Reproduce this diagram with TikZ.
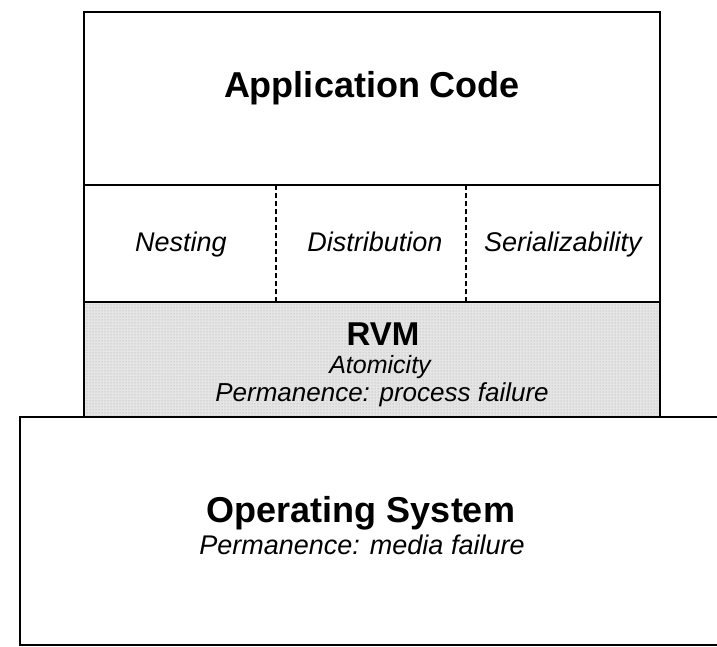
\documentclass[tikz,border=0pt]{standalone}
\usepackage{fontspec}
\setmainfont{Liberation Sans}
\usetikzlibrary{patterns}
\tikzset{
  layer/.style={draw=black, line width=1.6pt},
  divider/.style={draw=black, line width=1.3pt, dash pattern=on 5pt off 3pt},
  titletext/.style={font=\fontsize{36}{40}\selectfont\bfseries, anchor=base},
  subtext/.style={font=\fontsize{27}{30}\selectfont\itshape, anchor=base},
}
\begin{document}
\begin{tikzpicture}[x=1pt,y=-1pt]
\useasboundingbox (0,0) rectangle (717,647);
\clip (0,0) rectangle (717,647);
% RVM shaded layer
\fill[gray!20] (84,302) rectangle (660,417);
\fill[pattern=dots, pattern color=gray!70] (84,302) rectangle (660,417);
\draw[layer] (84,302) rectangle (660,417);
% Application code
\draw[layer] (84,12) rectangle (660,185);
% middle row
\draw[layer] (84,185) rectangle (660,302);
\coordinate (d1t) at (276,185); \coordinate (d1b) at (276,302);
\coordinate (d2t) at (466,185); \coordinate (d2b) at (466,302);
\draw[divider] (d1t) -- (d1b);
\draw[divider] (d2t) -- (d2b);
% Operating system
\draw[layer, fill=white] (20,417) rectangle (740,645);
% texts
\node[titletext] (app) at (372,98) {Application Code};
\node[subtext] (nest) at (181,251) {Nesting};
\node[subtext] (dist) at (375,251) {Distribution};
\node[subtext] (ser) at (563,251) {Serializability};
\node[titletext, font=\fontsize{33}{38}\selectfont\bfseries] (rvm) at (383,345) {RVM};
\node[subtext, font=\fontsize{25}{28}\selectfont\itshape] (atom) at (380,373) {Atomicity};
\node[subtext, font=\fontsize{26}{28}\selectfont\itshape] (perm1) at (382,401) {Permanence: process failure};
\node[titletext] (os) at (361,522) {Operating System};
\node[subtext] (perm2) at (362,554) {Permanence: media failure};
\end{tikzpicture}
\end{document}
